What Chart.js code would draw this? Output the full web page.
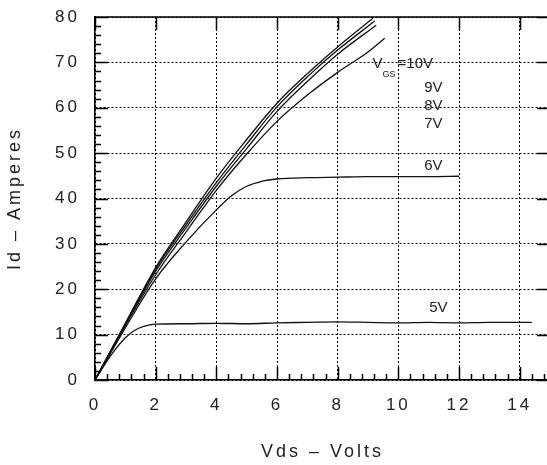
<!DOCTYPE html>
<html>
<head>
<meta charset="utf-8">
<script src="https://cdn.jsdelivr.net/npm/chart.js@4.4.1/dist/chart.umd.min.js"></script>
<style>
  html, body { margin: 0; padding: 0; background: #fff; overflow: hidden; }
  #wrap { width: 551px; height: 465px; }
</style>
</head>
<body>
<div id="wrap"><canvas id="ivChart" width="551" height="465"></canvas></div>
<script>
// output curves Id(Vds), one pair of arrays per gate voltage
const vds10 = [0, 1, 2, 3, 4, 5, 6, 7, 8, 9.16];
const id10  = [0, 12.5, 24.8, 34.8, 44.5, 53, 61, 67.5, 73.4, 79.7];
const vds9  = [0, 1, 2, 3, 4, 5, 6, 7, 8, 9.22];
const id9   = [0, 12.4, 24.5, 34.2, 43.5, 52, 60.2, 66.8, 72.7, 79.1];
const vds8  = [0, 1, 2, 3, 4, 5, 6, 7, 8, 9.27];
const id8   = [0, 12.2, 24, 33.5, 42.7, 51, 59.2, 65.8, 71.8, 78.2];
const vds7  = [0, 1, 2, 3, 4, 5, 6, 7, 8, 9, 9.55];
const id7   = [0, 12, 23.2, 32.6, 41.8, 49.8, 57, 62.8, 67.8, 72.3, 75.3];
const vds6  = [0, 1, 2, 3, 4, 4.5, 5, 5.5, 6, 7, 8, 9, 10, 11, 12];
const id6   = [0, 11.5, 22.3, 30.4, 37.5, 40.6, 42.7, 43.8, 44.3, 44.6, 44.7, 44.8, 44.8, 44.8, 44.9];
const vds5  = [0, 0.5, 1, 1.3, 1.6, 2, 3, 4, 5, 6, 7, 8, 9, 10, 11, 12, 13, 14.4];
const id5   = [0, 5.2, 9.3, 10.9, 11.8, 12.3, 12.4, 12.5, 12.4, 12.6, 12.7, 12.8, 12.7, 12.6, 12.7, 12.6, 12.7, 12.7];

const xTicks = [0, 2, 4, 6, 8, 10, 12, 14];
const yTicks = [0, 10, 20, 30, 40, 50, 60, 70, 80];

// curve labels: text, Vds, Id (right edge / middle)
const curveLabels = ['9V', '8V', '7V', '6V', '5V'];
const labelVds = [11.46, 11.46, 11.46, 11.46, 11.62];
const labelId  = [64.3, 60.35, 56.4, 47.1, 15.9];

function pts(xs, ys) { return xs.map((v, i) => ({ x: v, y: ys[i] })); }
function curve(xs, ys) {
  return { data: pts(xs, ys), showLine: true, borderColor: '#111', borderWidth: 1.3,
           pointRadius: 0, cubicInterpolationMode: 'monotone', fill: false };
}

const FONT = 'Liberation Sans';

const framePlugin = {
  id: 'frame',
  beforeLayout(chart) { chart.ctx.letterSpacing = '3px'; },
  beforeDraw(chart) { chart.ctx.letterSpacing = '3px'; },
  afterDraw(chart) {
    const { ctx, chartArea: a, scales: { x, y } } = chart;
    ctx.save();
    ctx.letterSpacing = '0px';
    ctx.strokeStyle = '#000';
    ctx.lineWidth = 1.5;
    ctx.beginPath();
    ctx.moveTo(a.left, a.top); ctx.lineTo(a.right, a.top);
    ctx.moveTo(a.right, a.top); ctx.lineTo(a.right, a.bottom);
    // inward ticks, left / right
    for (let v = 0; v <= 80; v += 2) {
      const py = Math.round(y.getPixelForValue(v)) + 0.5;
      const major = v % 10 === 0;
      ctx.moveTo(a.left, py); ctx.lineTo(a.left + (major ? 13 : 6), py);
      if (major) { ctx.moveTo(a.right, py); ctx.lineTo(a.right - 13, py); }
    }
    // inward ticks, bottom / top
    for (let i = 0; i * 0.4 <= 15; i++) {
      const px = Math.round(x.getPixelForValue(i * 0.4)) + 0.5;
      const major = i % 5 === 0;
      ctx.moveTo(px, a.bottom); ctx.lineTo(px, a.bottom - (major ? 13 : 6));
      if (major) { ctx.moveTo(px, a.top); ctx.lineTo(px, a.top + 13); }
    }
    ctx.stroke();

    ctx.fillStyle = '#222';
    ctx.textBaseline = 'middle';
    ctx.font = '15px ' + FONT;
    ctx.textAlign = 'right';
    curveLabels.forEach((t, i) => {
      ctx.fillText(t, x.getPixelForValue(labelVds[i]), y.getPixelForValue(labelId[i]));
    });
    // V_GS = 10V
    const bx = x.getPixelForValue(9.15), by = y.getPixelForValue(69.6);
    ctx.textAlign = 'left';
    ctx.fillText('V', bx, by);
    ctx.font = '9px ' + FONT;
    ctx.fillText('GS', bx + 10, by + 10);
    ctx.font = '15px ' + FONT;
    ctx.fillText('=10V', bx + 25, by);
    ctx.restore();
  }
};

const ctx = document.getElementById('ivChart');
new Chart(ctx, {
  type: 'scatter',
  data: {
    datasets: [
      curve(vds10, id10), curve(vds9, id9), curve(vds8, id8),
      curve(vds7, id7), curve(vds6, id6), curve(vds5, id5)
    ]
  },
  options: {
    responsive: false,
    animation: false,
    layout: { padding: { top: 17, right: 1, left: 0, bottom: 0 } },
    plugins: { legend: { display: false }, tooltip: { enabled: false } },
    scales: {
      x: {
        type: 'linear', min: 0, max: 15,
        afterFit(s) { s.height = 85; s.paddingLeft = 0; s.paddingRight = 0; },
        afterBuildTicks(s) { s.ticks = xTicks.map(v => ({ value: v })); },
        grid: { color: '#000', lineWidth: 1, drawTicks: false },
        border: { color: '#000', width: 1.5, dash: [2, 2] },
        ticks: { color: '#222', padding: 15, font: { family: FONT, size: 17 } },
        title: { display: true, text: 'Vds – Volts', color: '#222',
                 font: { family: FONT, size: 18 }, padding: { top: 0, bottom: 2 } }
      },
      y: {
        type: 'linear', min: 0, max: 80,
        afterFit(s) { s.width = 95; s.paddingTop = 0; s.paddingBottom = 0; },
        afterBuildTicks(s) { s.ticks = yTicks.map(v => ({ value: v })); },
        grid: { color: '#000', lineWidth: 1, drawTicks: false },
        border: { color: '#000', width: 1.5, dash: [2, 2] },
        ticks: { color: '#222', padding: 15, font: { family: FONT, size: 17 } },
        title: { display: true, text: 'Id – Amperes', color: '#222',
                 font: { family: FONT, size: 18 }, padding: { top: 4, bottom: 0 } }
      }
    }
  },
  plugins: [framePlugin]
});
</script>
</body>
</html>
